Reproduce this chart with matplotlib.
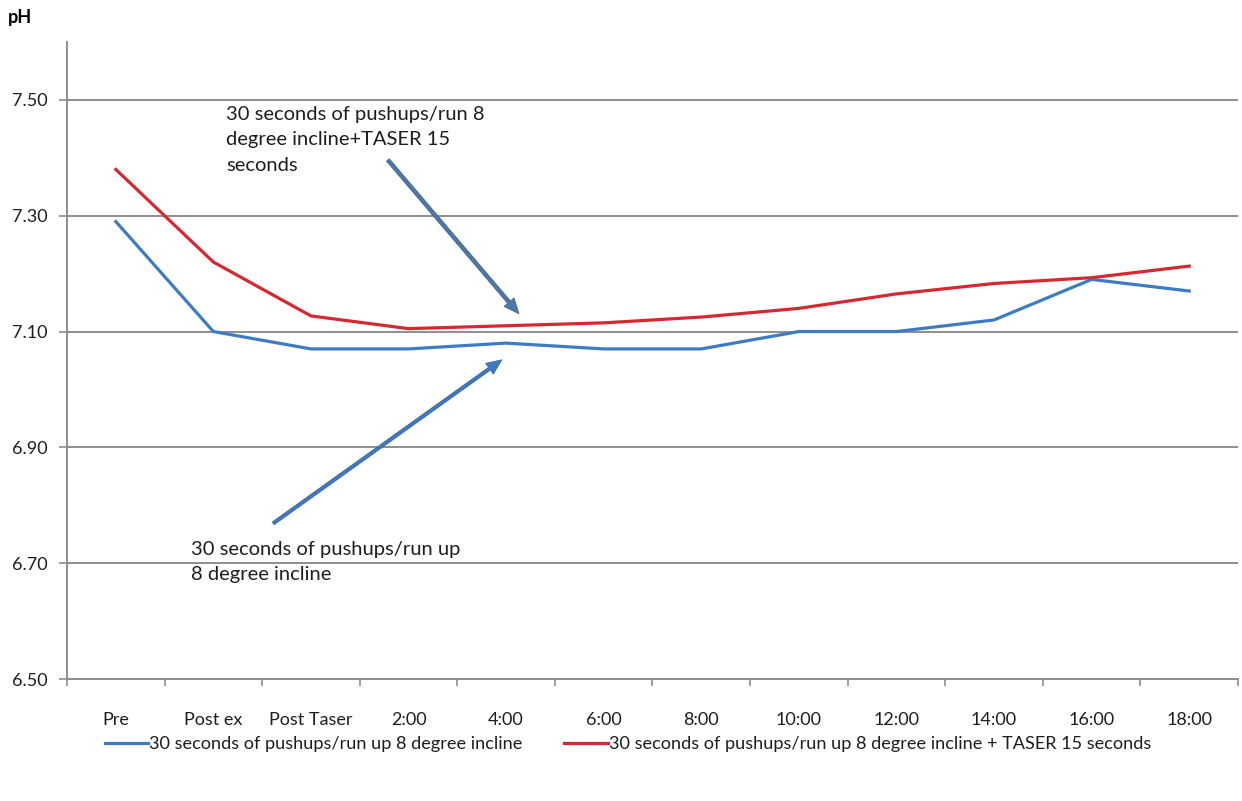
import numpy as np
import matplotlib
matplotlib.use("Agg")
import matplotlib.pyplot as plt

# pH readings per sample time
times = ["Pre", "Post ex", "Post Taser", "2:00", "4:00", "6:00", "8:00",
         "10:00", "12:00", "14:00", "16:00", "18:00"]
ph_exercise = [7.29, 7.10, 7.07, 7.07, 7.08, 7.07, 7.07, 7.10, 7.10, 7.12, 7.19, 7.17]
ph_taser = [7.38, 7.22, 7.127, 7.105, 7.11, 7.115, 7.125, 7.14, 7.165, 7.183, 7.193, 7.213]

label_exercise = "30 seconds of pushups/run up 8 degree incline"
label_taser = "30 seconds of pushups/run up 8 degree incline + TASER 15 seconds"

yticks = [6.50, 6.70, 6.90, 7.10, 7.30, 7.50]

plt.rcParams['font.family'] = ['Lato', 'DejaVu Sans']

BLUE = '#3d7cc4'
RED = '#d8282f'
GRID = '#8e8e8e'
TXT = '#1e1e1e'

fig = plt.figure(figsize=(12.42, 8.01), dpi=100)
ax = fig.add_axes([67/1242, 1 - 679/801, 1171/1242, 637/801])

x = np.arange(len(times))
ax.plot(x, ph_exercise, color=BLUE, lw=2.3, label=label_exercise, zorder=3)
ax.plot(x, ph_taser, color=RED, lw=2.3, label=label_taser, zorder=3)

ax.set_ylim(6.5, 7.6)
ax.set_xlim(-0.5, len(times) - 0.5)
ax.set_yticks(yticks)
ax.set_yticklabels(["%.2f" % v for v in yticks])
ax.yaxis.grid(True, color=GRID, lw=1.4)
ax.set_axisbelow(True)

# boundary ticks between categories, labels at centres
ax.set_xticks(np.arange(-0.5, len(times), 1))
ax.set_xticklabels([])
ax.set_xticks(x, minor=True)
ax.set_xticklabels(times, minor=True)
ax.tick_params(axis='x', which='major', length=5, color=GRID, width=1.2)
ax.tick_params(axis='x', which='minor', length=0, pad=24, labelsize=13, labelcolor=TXT)
ax.tick_params(axis='y', length=6, color=GRID, width=1.2, pad=8, labelsize=13, labelcolor=TXT)

for s in ['top', 'right']:
    ax.spines[s].set_visible(False)
for s in ['left', 'bottom']:
    ax.spines[s].set_color(GRID)
    ax.spines[s].set_linewidth(1.4)

arrow1 = dict(arrowstyle='simple,head_length=1.1,head_width=0.95,tail_width=0.27',
              fc='#4d77a6', ec='#3f5f85', lw=0.5)
arrow2 = dict(arrowstyle='simple,head_length=1.1,head_width=0.95,tail_width=0.24',
              fc='#3f79bf', ec='#355f95', lw=0.5)
ax.annotate("", xy=(4.15, 7.127), xytext=(2.77, 7.400), arrowprops=arrow1)
ax.annotate("", xy=(3.98, 7.054), xytext=(1.59, 6.766), arrowprops=arrow2)

ax.text(1.128, 7.431, "30 seconds of pushups/run 8\ndegree incline+TASER 15\nseconds",
        fontsize=14.5, va='center', ha='left', linespacing=1.6, color=TXT)
ax.text(0.77, 6.702, "30 seconds of pushups/run up\n8 degree incline",
        fontsize=14.5, va='center', ha='left', linespacing=1.6, color=TXT)

fig.text(8/1242, 1 - 18/801, "pH", fontsize=13, fontweight='bold', va='center', ha='left')

fig.legend(loc='center', bbox_to_anchor=(0.5055, 1 - 744/801), ncol=2, frameon=False,
           fontsize=13.1, handlelength=2.4, handletextpad=0.05, columnspacing=2.3,
           labelcolor=TXT)

fig.savefig("out.png", dpi=100)
